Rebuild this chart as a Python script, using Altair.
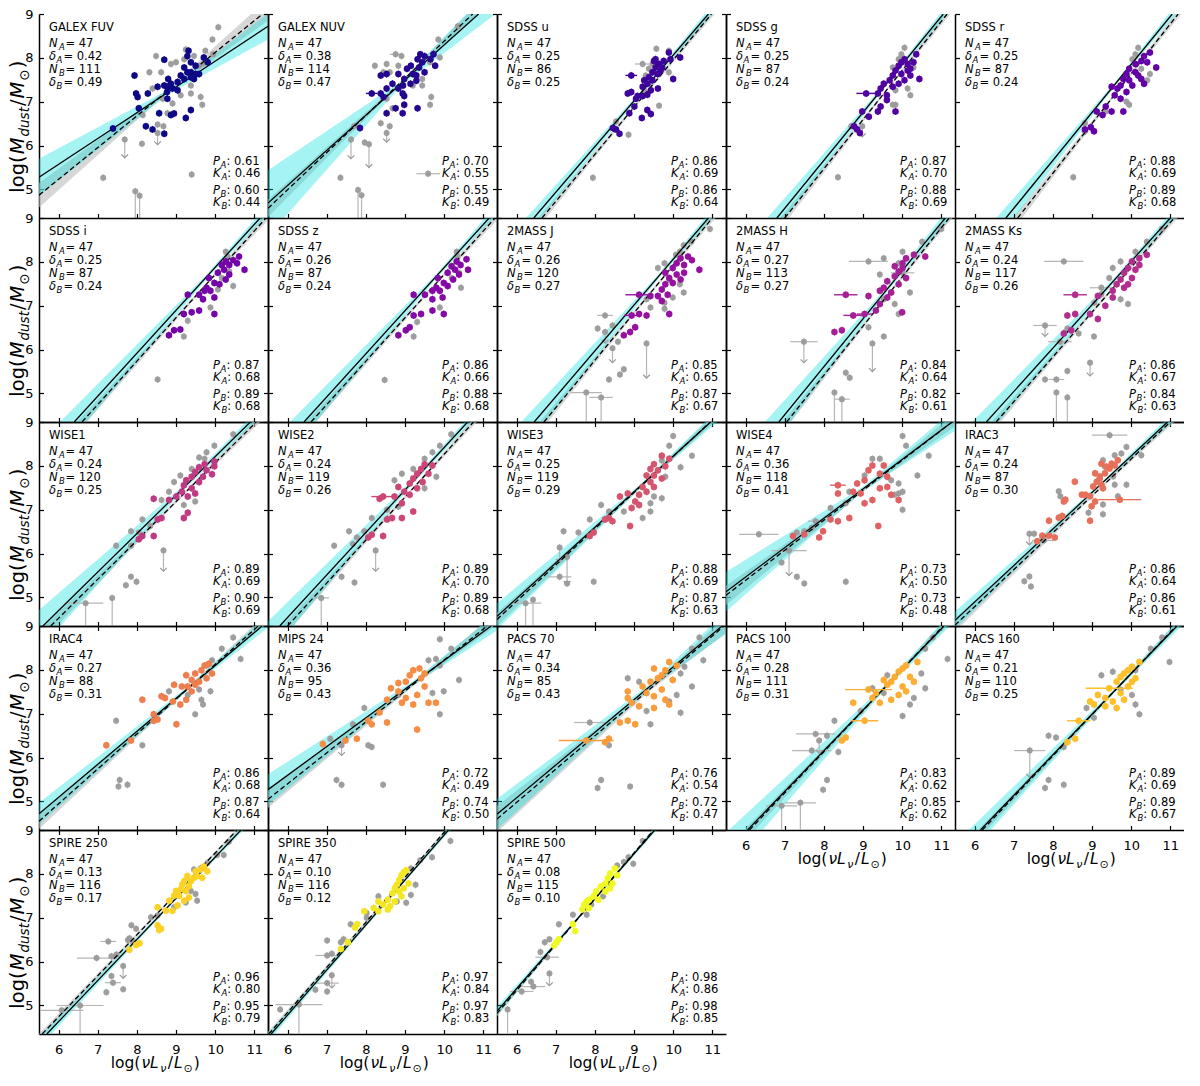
import altair as alt
import pandas as pd

XMIN, XMAX = 5.5, 11.35
YMIN, YMAX = 4.35, 9.0
W, H = 229, 204
XT = [6, 7, 8, 9, 10, 11]
YT = [5, 6, 7, 8, 9]
FONT = "DejaVu Sans"
EB = 0.08          # half length of the small vertical error bars (style)
GREY = "#9a9a9a"
GREY_EB = "#b5b5b5"
TICK = 4.5

NAMES = ["GALEX FUV", "GALEX NUV", "SDSS u", "SDSS g", "SDSS r",
         "SDSS i", "SDSS z", "2MASS J", "2MASS H", "2MASS Ks",
         "WISE1", "WISE2", "WISE3", "WISE4", "IRAC3",
         "IRAC4", "MIPS 24", "PACS 70", "PACS 100", "PACS 160",
         "SPIRE 250", "SPIRE 350", "SPIRE 500"]

COLORS = ["#0d0887", "#240691", "#3c049b", "#5003a1", "#6301a6",
          "#7404a7", "#8509a5", "#9512a0", "#a52097", "#b32d8e",
          "#c03a83", "#cc4778", "#d5546e", "#df6164", "#e7705a",
          "#ef7e4f", "#f58d45", "#f99d3c", "#fcad33", "#fcc02b",
          "#fbd225", "#f5e623", "#f0f921"]

# N_A, delta_A, N_B, delta_B, P_A, K_A, P_B, K_B
STATS = [("47", "0.42", "111", "0.49", "0.61", "0.46", "0.60", "0.44"),
         ("47", "0.38", "114", "0.47", "0.70", "0.55", "0.55", "0.49"),
         ("47", "0.25", "86", "0.25", "0.86", "0.69", "0.86", "0.64"),
         ("47", "0.25", "87", "0.24", "0.87", "0.70", "0.88", "0.69"),
         ("47", "0.25", "87", "0.24", "0.88", "0.69", "0.89", "0.68"),
         ("47", "0.25", "87", "0.24", "0.87", "0.68", "0.89", "0.68"),
         ("47", "0.26", "87", "0.24", "0.86", "0.66", "0.88", "0.68"),
         ("47", "0.26", "120", "0.27", "0.85", "0.65", "0.87", "0.67"),
         ("47", "0.27", "113", "0.27", "0.84", "0.64", "0.82", "0.61"),
         ("47", "0.24", "117", "0.26", "0.86", "0.67", "0.84", "0.63"),
         ("47", "0.24", "120", "0.25", "0.89", "0.69", "0.90", "0.69"),
         ("47", "0.24", "119", "0.26", "0.89", "0.70", "0.89", "0.68"),
         ("47", "0.25", "119", "0.29", "0.88", "0.69", "0.87", "0.63"),
         ("47", "0.36", "118", "0.41", "0.73", "0.50", "0.73", "0.48"),
         ("47", "0.24", "87", "0.30", "0.86", "0.64", "0.86", "0.61"),
         ("47", "0.27", "88", "0.31", "0.86", "0.68", "0.87", "0.64"),
         ("47", "0.36", "95", "0.43", "0.72", "0.49", "0.74", "0.50"),
         ("47", "0.34", "85", "0.43", "0.76", "0.54", "0.72", "0.47"),
         ("47", "0.28", "111", "0.31", "0.83", "0.62", "0.85", "0.62"),
         ("47", "0.21", "110", "0.25", "0.89", "0.69", "0.89", "0.67"),
         ("47", "0.13", "116", "0.17", "0.96", "0.80", "0.95", "0.79"),
         ("47", "0.10", "116", "0.12", "0.97", "0.84", "0.97", "0.83"),
         ("47", "0.08", "115", "0.10", "0.98", "0.86", "0.98", "0.85")]

# fit lines: (x1, y1, x2, y2); A = solid, B = dashed
LINE_A = [(5.5, 5.28, 11.35, 8.72), (5.5, 4.69, 10.88, 9.0), (6.44, 4.35, 10.9, 9.0),
          (6.8, 4.35, 11.05, 9.0), (6.8, 4.35, 11.05, 9.0), (6.4, 4.35, 11.15, 9.0),
          (6.42, 4.35, 11.15, 9.0), (6.45, 4.35, 10.9, 9.0), (6.85, 4.35, 11.1, 9.0),
          (6.3, 4.35, 11.0, 9.0), (5.6, 4.35, 10.9, 9.0), (5.8, 4.35, 10.6, 9.0),
          (5.5, 4.57, 10.96, 9.0), (5.5, 5.13, 11.35, 9.05), (5.5, 4.48, 10.93, 9.0),
          (5.5, 4.72, 11.2, 9.0), (5.5, 5.27, 11.2, 9.0), (5.5, 4.71, 11.25, 9.0),
          (6.05, 4.35, 11.07, 9.0), (6.15, 4.35, 11.17, 9.0), (5.7, 4.35, 10.66, 9.0),
          (5.58, 4.35, 10.11, 9.0), (5.5, 4.87, 9.53, 9.0)]
LINE_B = [(5.5, 4.87, 11.35, 9.10), (5.5, 4.57, 10.73, 9.0), (6.65, 4.35, 10.98, 9.0),
          (7.0, 4.35, 11.15, 9.0), (7.1, 4.35, 11.2, 9.0), (6.6, 4.35, 11.3, 9.0),
          (6.6, 4.35, 11.3, 9.0), (6.7, 4.35, 11.0, 9.0), (7.05, 4.35, 11.2, 9.0),
          (6.55, 4.35, 11.1, 9.0), (5.8, 4.35, 11.05, 9.0), (6.0, 4.35, 10.75, 9.0),
          (5.5, 4.50, 10.95, 9.0), (5.5, 5.05, 11.35, 9.05), (5.5, 4.37, 11.0, 9.0),
          (5.5, 4.55, 11.1, 9.0), (5.5, 5.05, 11.1, 9.0), (5.5, 4.60, 11.3, 9.0),
          (6.1, 4.35, 11.05, 9.0), (6.2, 4.35, 11.15, 9.0), (5.58, 4.35, 10.56, 9.0),
          (5.52, 4.35, 10.05, 9.0), (5.5, 4.82, 9.5, 9.0)]
# confidence bands: (pivot x, half width at left edge, at pivot, at right edge)
BAND_A = [(8.8, 0.42, 0.05, 0.30), (8.9, 0.75, 0.05, 0.35), (9.3, 0.25, 0.04, 0.12),
          (9.6, 0.35, 0.04, 0.12), (9.6, 0.35, 0.04, 0.12), (9.8, 0.40, 0.05, 0.12),
          (9.8, 0.40, 0.05, 0.12), (9.6, 0.40, 0.05, 0.12), (9.6, 0.50, 0.05, 0.15),
          (9.6, 0.40, 0.05, 0.12), (9.2, 0.45, 0.05, 0.12), (9.2, 0.40, 0.05, 0.12),
          (9.2, 0.30, 0.04, 0.15), (9.0, 0.45, 0.05, 0.25), (9.2, 0.20, 0.03, 0.12),
          (9.3, 0.25, 0.04, 0.15), (9.2, 0.35, 0.05, 0.20), (9.4, 0.35, 0.05, 0.25),
          (9.6, 0.45, 0.05, 0.15), (9.6, 0.30, 0.04, 0.12), (9.2, 0.12, 0.03, 0.08),
          (8.7, 0.10, 0.03, 0.08), (7.8, 0.10, 0.03, 0.08)]
BAND_B = [(8.8, 0.28, 0.04, 0.25), (8.9, 0.20, 0.03, 0.15), (9.3, 0.14, 0.03, 0.10),
          (9.6, 0.18, 0.03, 0.10), (9.6, 0.20, 0.03, 0.10), (9.8, 0.15, 0.03, 0.10),
          (9.8, 0.15, 0.03, 0.10), (9.6, 0.15, 0.03, 0.10), (9.6, 0.18, 0.03, 0.10),
          (9.6, 0.15, 0.03, 0.10), (9.2, 0.15, 0.03, 0.10), (9.2, 0.15, 0.03, 0.10),
          (9.2, 0.15, 0.03, 0.10), (9.0, 0.22, 0.04, 0.15), (9.2, 0.15, 0.03, 0.10),
          (9.3, 0.18, 0.03, 0.12), (9.2, 0.20, 0.04, 0.15), (9.4, 0.30, 0.04, 0.20),
          (9.6, 0.15, 0.03, 0.10), (9.6, 0.12, 0.03, 0.08), (9.2, 0.08, 0.02, 0.06),
          (8.7, 0.07, 0.02, 0.05), (7.8, 0.07, 0.02, 0.05)]

# ---- points: *_A coloured sample, *_B grey sample, *_LIM upper limits (x, y, arrow end),
# ---- *_XA / *_XB horizontal error bars (x, y, half width)
FUV_A = [(7.39,6.39),(7.94,7.60),(7.98,7.19),(8.02,7.11),(8.28,7.19),(8.05,6.85),(8.23,6.44),(8.40,6.37),(8.70,7.96),(8.57,6.74),(8.70,6.27),(8.53,7.34),(8.70,7.37),(8.78,7.34),(8.77,7.22),(8.80,7.52),(8.87,6.70),(8.95,6.73),(9.04,7.45),(9.12,7.60),(9.21,7.78),(9.29,7.67),(9.38,7.67),(9.38,7.56),(9.25,6.63),(9.38,6.81),(9.32,8.16),(9.29,8.04),(9.38,7.90),(9.50,7.82),(9.50,7.63),(9.59,7.63),(9.71,8.01),(9.81,7.90),(9.46,7.52),(9.04,7.26),(8.91,7.30),(9.21,7.52),(8.78,7.07),(8.87,7.41)]
FUV_B = [(10.08,8.70),(9.93,8.42),(9.95,8.08),(9.75,8.16),(9.70,7.87),(9.59,7.82),(9.46,8.04),(9.25,8.19),(9.21,7.97),(9.00,7.90),(8.87,7.86),(8.62,7.67),(8.49,8.04),(8.32,7.67),(8.40,7.30),(8.66,7.07),(8.91,6.96),(9.12,7.15),(9.38,7.19),(9.63,7.11),(9.67,6.93),(8.78,6.74),(8.53,6.48),(8.68,6.44),(8.53,6.29),(7.69,6.14),(8.13,6.04),(7.14,5.27),(9.40,5.34),(7.96,4.96),(8.07,4.86),(8.15,6.70),(9.38,7.37)]
FUV_LIM = [(7.69,6.14,5.72),(7.96,4.96,3.9),(8.07,4.86,3.9),(8.53,6.29,6.02)]

NUV_A = [(8.38,7.60),(8.15,7.19),(8.45,7.11),(8.53,7.30),(8.68,7.41),(8.83,7.30),(8.94,7.19),(8.98,7.13),(8.76,6.85),(8.53,6.74),(8.94,6.74),(9.32,6.85),(7.85,6.40),(8.83,7.63),(8.98,7.52),(9.20,7.63),(9.05,7.75),(9.15,7.82),(9.36,7.78),(9.44,7.90),(9.32,7.97),(9.39,8.08),(9.50,8.04),(9.73,8.08),(9.77,7.82),(9.50,7.67),(9.29,7.60),(9.14,7.41),(8.95,7.37),(8.53,7.63),(9.29,7.48),(9.65,7.97),(8.98,6.93),(8.38,7.19)]
NUV_B = [(10.35,8.72),(9.85,8.42),(9.89,8.01),(9.64,7.90),(9.44,7.52),(9.67,7.11),(9.64,6.93),(9.44,7.37),(9.20,7.37),(8.91,8.04),(8.83,7.82),(8.61,7.67),(8.45,7.67),(8.23,7.82),(8.53,7.86),(8.53,7.07),(8.68,6.85),(8.38,6.51),(8.61,6.44),(8.53,6.29),(7.70,6.44),(7.62,6.14),(7.97,6.07),(8.08,6.03),(7.35,5.27),(9.59,5.36),(7.80,4.99),(7.89,4.87),(8.76,8.08)]
NUV_LIM = [(7.62,6.14,5.7),(8.08,6.03,5.5),(8.53,6.29,6.08),(7.80,4.99,3.9),(7.89,4.87,3.9)]
NUV_XA = [(8.15,7.19,0.15)]
NUV_XB = [(9.59,5.36,0.3),(8.76,8.08,0.15)]

U_A = [(8.46,6.40),(8.54,6.37),(8.63,6.27),(8.88,6.74),(9.01,6.89),(9.20,6.63),(9.34,6.81),(9.43,6.72),(8.93,7.60),(8.84,7.19),(8.93,7.22),(9.09,7.13),(9.22,7.13),(9.34,7.16),(9.43,7.26),(9.22,7.34),(9.26,7.49),(9.34,7.41),(9.38,7.56),(9.47,7.67),(9.55,7.78),(9.64,7.86),(9.72,7.78),(9.60,7.63),(9.51,7.93),(9.55,7.97),(9.89,8.12),(9.93,7.97),(9.76,7.93),(10.0,7.52),(9.61,7.30),(10.18,8.01),(9.05,7.07),(9.68,7.71),(9.47,7.49)]
U_B = [(9.57,8.21),(9.89,8.16),(9.22,7.86),(9.47,7.86),(9.38,7.75),(9.30,7.60),(9.40,7.41),(9.64,6.91),(8.86,6.25),(7.95,5.27),(9.89,7.67),(9.26,7.26),(8.54,6.55)]
U_XA = [(8.93,7.60,0.15)]
U_XB = [(9.22,7.86,0.2)]

G_A = [(8.85,6.37),(8.92,6.29),(8.77,6.44),(8.98,6.78),(9.15,6.66),(9.38,6.78),(9.45,6.89),(9.83,6.78),(9.08,7.19),(9.38,7.19),(9.45,7.30),(9.53,7.41),(9.61,7.15),(9.76,7.34),(9.68,7.49),(9.76,7.60),(9.83,7.71),(9.91,7.82),(9.98,7.90),(10.06,7.97),(10.14,7.86),(10.29,7.90),(10.36,8.08),(9.98,7.63),(10.14,7.71),(10.21,7.60),(10.44,7.52),(9.91,7.41),(10.06,7.49),(10.21,7.75),(9.61,7.04)]
G_B = [(10.06,8.23),(9.98,8.08),(10.14,7.30),(10.21,7.15),(9.83,6.93),(9.76,6.93),(8.98,6.44),(8.70,6.44),(8.36,5.28),(9.91,7.97),(10.29,7.78),(9.76,7.78),(9.83,7.26)]
G_LIM = [(8.98,6.44,6.2)]
G_XA = [(9.08,7.19,0.25)]

R_A = [(8.82,6.37),(8.97,6.42),(9.05,6.33),(9.12,6.78),(9.27,6.70),(9.50,6.78),(9.80,6.78),(9.35,6.89),(9.58,7.15),(9.65,7.30),(9.50,7.34),(9.73,7.37),(9.80,7.52),(9.88,7.63),(9.95,7.75),(10.11,7.86),(10.26,7.93),(10.33,8.04),(10.48,8.12),(10.64,7.78),(10.33,7.41),(10.18,7.60),(10.03,7.37),(9.88,7.22),(10.11,7.67),(10.41,7.90),(9.95,7.49),(10.26,7.52),(9.73,7.07)]
R_B = [(10.18,8.23),(10.11,8.08),(10.26,7.75),(10.41,7.49),(9.88,7.00),(9.95,6.93),(9.35,6.78),(8.82,6.51),(8.52,5.28),(10.48,7.63),(10.03,7.97)]
R_LIM = [(8.82,6.51,6.25)]

I_A = [(8.82,6.33),(8.95,6.44),(9.11,6.46),(9.20,6.81),(9.40,6.85),(9.59,6.89),(9.98,6.81),(9.30,7.25),(9.59,7.25),(9.69,7.15),(9.78,7.41),(9.88,7.34),(9.98,7.52),(9.84,7.63),(10.07,7.75),(10.17,7.93),(10.27,8.01),(10.36,7.93),(10.46,8.04),(10.61,8.12),(10.75,7.82),(10.36,7.71),(10.27,7.60),(10.11,7.49),(9.98,7.19),(9.73,7.34),(10.23,7.82),(10.56,7.97)]
I_B = [(10.27,8.23),(10.32,8.12),(10.17,7.63),(10.46,7.45),(9.88,6.96),(9.30,6.66),(9.20,6.30),(8.53,5.32),(10.36,7.78),(10.07,7.37)]

Z_A = [(8.83,6.33),(9.02,6.44),(9.12,6.51),(9.22,6.78),(9.41,6.81),(9.70,6.89),(9.99,6.81),(9.22,7.25),(9.51,7.25),(9.70,7.15),(9.80,7.41),(9.89,7.34),(9.99,7.52),(9.84,7.63),(10.09,7.75),(10.19,7.90),(10.32,8.01),(10.42,7.93),(10.57,8.06),(10.61,7.82),(10.38,7.71),(10.23,7.60),(10.09,7.45),(9.96,7.19),(9.70,7.34),(10.28,7.82)]
Z_B = [(10.32,8.23),(10.34,8.12),(10.19,7.63),(10.43,7.41),(9.89,6.96),(9.31,6.63),(9.22,6.30),(8.48,5.31),(10.38,7.75)]

J_A = [(8.74,6.33),(8.90,6.40),(9.03,6.51),(8.94,6.78),(9.13,6.81),(9.32,6.78),(9.90,6.81),(9.13,7.25),(9.42,7.22),(9.61,7.22),(9.71,7.11),(9.71,7.37),(9.80,7.49),(9.90,7.63),(9.80,7.75),(9.99,7.86),(10.09,7.97),(10.19,8.08),(10.38,8.12),(10.48,8.04),(10.67,7.82),(10.28,7.75),(10.19,7.60),(9.99,7.52),(9.86,7.25),(10.09,7.71),(10.28,7.93)]
J_B = [(10.94,8.75),(10.46,8.46),(10.27,8.38),(10.17,8.23),(10.07,8.16),(9.78,7.97),(9.61,7.86),(9.90,7.60),(10.17,7.49),(10.27,7.30),(9.99,7.19),(9.78,7.07),(9.78,6.93),(9.42,6.96),(9.32,7.15),(8.26,6.78),(8.45,6.55),(8.07,6.48),(8.26,6.40),(8.59,6.18),(8.45,6.03),(9.32,6.14),(8.74,5.55),(8.36,5.32),(8.64,5.43),(7.78,5.02),(8.16,4.91)]
J_LIM = [(8.26,6.40,6.15),(8.45,6.03,5.7),(9.32,6.14,5.35),(7.78,5.02,3.9),(8.16,4.91,3.9)]
J_XA = [(9.13,7.25,0.35),(8.94,6.78,0.2)]
J_XB = [(8.26,6.78,0.2),(7.78,5.02,0.4),(8.16,4.91,0.3)]

H_A = [(8.27,6.40),(8.46,6.44),(8.75,6.78),(9.04,6.81),(9.33,6.89),(10.00,6.85),(8.56,7.25),(9.14,7.22),(9.43,7.34),(9.53,7.41),(9.62,7.56),(9.81,7.67),(9.91,7.78),(9.81,7.90),(10.01,7.97),(10.10,8.08),(10.30,8.16),(10.59,8.12),(9.91,7.49),(9.72,7.30),(9.62,7.19),(10.10,7.63),(9.43,7.04),(10.01,7.86)]
H_B = [(11.00,8.75),(10.51,8.46),(10.01,8.23),(9.14,8.01),(9.91,7.97),(10.01,7.75),(9.53,8.08),(9.43,7.71),(9.53,7.15),(9.81,7.04),(9.91,6.81),(10.20,7.30),(9.14,6.51),(7.49,6.18),(9.24,6.14),(8.56,5.47),(8.66,5.36),(8.46,4.87),(8.27,5.02),(9.53,6.30)]
H_LIM = [(7.49,6.18,5.7),(9.24,6.14,5.5),(8.27,5.02,3.9),(8.46,4.87,3.9)]
H_XA = [(8.75,6.78,0.25),(9.04,6.81,0.2),(8.56,7.25,0.3)]
H_XB = [(9.14,8.01,0.5),(10.01,7.75,0.3),(7.49,6.18,0.35),(8.46,4.87,0.2)]

KS_A = [(8.28,6.37),(8.47,6.44),(8.37,6.78),(8.57,6.81),(8.95,6.81),(9.15,6.70),(8.57,7.25),(9.15,7.22),(9.53,7.34),(9.63,7.49),(9.73,7.60),(9.82,7.75),(9.92,7.86),(10.02,8.01),(10.21,8.08),(10.40,8.16),(10.11,7.82),(10.02,7.63),(9.82,7.41),(9.53,7.19),(9.92,7.49),(10.21,7.93),(9.34,7.00)]
KS_B = [(10.79,8.75),(10.40,8.46),(8.28,8.01),(10.11,8.23),(9.73,8.01),(9.53,7.86),(9.44,7.63),(9.24,7.41),(9.73,7.15),(9.92,7.04),(9.06,7.07),(9.24,7.26),(7.80,6.55),(8.37,6.48),(8.66,6.37),(8.18,6.18),(9.05,6.30),(8.95,5.70),(8.37,5.51),(8.09,5.32),(8.09,5.02),(8.37,4.91),(7.80,5.32)]
KS_LIM = [(7.80,6.55,6.3),(8.95,5.70,5.4),(8.09,5.02,3.9),(8.37,4.91,3.9)]
KS_XA = [(8.57,7.25,0.3)]
KS_XB = [(8.28,8.01,0.5),(7.80,6.55,0.3),(8.18,6.18,0.3),(9.24,7.41,0.3),(8.09,5.32,0.2)]

W1_A = [(8.05,6.33),(8.14,6.40),(8.43,6.40),(8.53,6.78),(8.63,6.81),(9.20,6.81),(9.30,6.93),(8.43,7.25),(8.82,7.22),(9.01,7.30),(9.15,7.41),(9.20,7.56),(9.26,7.67),(9.40,7.75),(9.49,7.86),(9.59,7.97),(9.73,8.04),(9.98,7.99),(9.92,7.81),(9.59,7.63),(9.40,7.49),(9.30,7.30),(9.69,7.75),(9.78,7.90),(9.49,7.37),(9.98,8.10)]
W1_B = [(10.46,8.72),(9.98,8.46),(9.78,8.31),(9.73,8.16),(9.59,8.19),(9.40,7.93),(9.11,7.78),(8.95,7.63),(8.82,7.41),(8.63,7.22),(9.20,7.11),(9.49,7.19),(8.14,6.78),(7.85,6.51),(8.05,6.48),(8.34,6.63),(7.47,6.18),(7.85,6.18),(8.68,6.07),(7.85,5.47),(7.99,5.36),(7.72,5.28),(7.37,4.99),(6.69,4.87)]
W1_LIM = [(8.68,6.07,5.6),(7.37,4.99,3.9),(6.69,4.87,3.9)]
W1_XB = [(6.69,4.87,0.45)]

W2_A = [(8.06,6.37),(8.15,6.43),(8.44,6.40),(8.54,6.78),(8.67,6.81),(8.92,6.81),(9.21,6.96),(8.35,7.25),(8.44,7.30),(8.73,7.30),(8.98,7.41),(9.12,7.60),(9.21,7.71),(9.31,7.82),(9.41,7.93),(9.50,8.04),(9.60,7.82),(9.70,8.01),(9.31,7.49),(9.12,7.34),(8.92,7.15),(9.45,7.63),(8.83,7.52)]
W2_B = [(10.18,8.72),(9.89,8.46),(9.70,8.31),(9.50,8.16),(9.21,7.93),(8.92,7.82),(8.73,7.67),(9.80,7.75),(9.50,7.49),(8.83,7.07),(8.54,7.00),(8.15,6.81),(7.96,6.51),(7.57,6.51),(7.77,6.37),(7.67,6.22),(7.19,6.18),(7.38,5.47),(7.71,5.34),(8.25,6.07),(6.86,4.99)]
W2_LIM = [(8.25,6.07,5.6),(6.86,4.99,3.9)]
W2_XA = [(8.44,7.30,0.3)]
W2_XB = [(6.86,4.99,0.2)]

W3_A = [(7.87,6.40),(7.97,6.48),(8.26,6.78),(8.36,6.81),(8.45,6.74),(8.90,6.63),(8.64,7.30),(8.84,7.37),(9.03,7.19),(9.13,7.34),(9.32,7.41),(9.22,7.52),(9.42,7.63),(9.51,7.78),(9.61,7.90),(9.80,7.99),(9.90,8.16),(9.71,8.23),(9.51,8.04),(9.42,7.93),(9.32,7.78),(9.51,7.52),(9.13,7.11),(8.94,7.04),(9.71,7.71)]
W3_B = [(10.00,8.68),(9.90,8.46),(10.48,8.23),(10.19,7.97),(9.71,8.12),(9.80,7.75),(9.51,7.30),(9.71,7.26),(9.42,7.15),(9.42,6.96),(9.22,6.81),(8.74,6.96),(8.36,6.96),(8.16,7.11),(7.87,6.78),(7.58,6.48),(7.20,6.51),(7.10,6.14),(7.29,5.92),(7.10,5.47),(7.29,5.32),(7.97,5.36),(6.23,4.87),(6.42,4.95)]
W3_LIM = [(7.10,6.14,5.8),(7.29,5.92,5.3),(6.23,4.87,3.9),(6.42,4.95,3.9)]
W3_XB = [(7.10,5.47,0.3),(6.23,4.87,0.4)]

W4_A = [(7.21,6.40),(7.50,6.44),(7.88,6.37),(7.98,6.51),(8.17,6.78),(8.36,6.74),(8.65,6.81),(8.36,7.37),(8.36,7.56),(8.75,7.41),(8.94,7.37),(8.85,7.60),(9.04,7.67),(9.14,7.90),(9.24,8.01),(9.43,7.82),(9.53,8.01),(9.62,7.75),(9.43,7.49),(9.72,7.34),(9.91,7.22),(9.24,7.22),(9.39,6.63),(9.04,7.15),(9.62,7.52)]
W4_B = [(10.01,8.68),(10.10,8.46),(10.68,8.23),(10.39,7.78),(9.91,7.60),(9.91,7.37),(10.01,7.00),(10.01,7.41),(9.72,7.67),(9.43,8.16),(9.24,8.16),(9.04,7.78),(8.65,7.41),(8.56,7.15),(8.17,7.04),(7.79,6.74),(7.69,6.59),(7.50,6.51),(7.31,6.48),(6.34,6.44),(7.11,6.07),(7.31,5.47),(7.50,5.32),(8.56,5.36),(6.92,5.80),(9.81,7.34)]
W4_LIM = [(7.11,6.07,5.5)]
W4_XA = [(8.36,7.56,0.2)]
W4_XB = [(6.34,6.44,0.5),(7.11,6.07,0.45),(7.79,6.74,0.2)]

I3_A = [(7.60,6.28),(7.73,6.41),(7.90,6.41),(8.05,6.37),(7.90,6.75),(8.15,6.82),(8.24,6.86),(8.32,7.23),(8.28,7.19),(8.56,7.64),(8.74,7.34),(8.83,7.34),(8.95,7.31),(9.08,7.19),(8.99,7.08),(8.95,6.75),(9.03,7.53),(9.12,7.64),(9.20,7.72),(9.24,7.57),(9.28,7.49),(9.33,7.83),(9.37,7.98),(9.45,7.94),(9.50,8.05),(9.58,8.01),(9.66,8.13),(9.24,8.05),(9.71,7.23),(9.08,7.83),(9.20,7.76)]
I3_B = [(9.45,8.70),(9.88,8.43),(10.26,8.24),(9.75,8.28),(9.58,8.24),(9.28,8.13),(9.33,7.98),(9.54,7.76),(9.58,7.57),(9.88,7.57),(9.66,7.31),(9.28,7.12),(9.28,6.90),(8.91,6.93),(8.15,7.42),(8.19,7.31),(7.40,6.45),(7.52,6.45),(7.77,6.30),(7.27,5.37),(7.40,5.48),(7.44,5.25)]
I3_LIM = [(7.40,6.45,6.2)]
I3_XA = [(9.71,7.23,0.55)]
I3_XB = [(9.45,8.70,0.45),(7.77,6.30,0.3)]

I4_A = [(7.22,6.28),(7.85,6.39),(8.14,7.32),(8.43,6.84),(8.53,6.87),(8.63,7.40),(8.72,7.36),(8.92,7.28),(9.01,6.76),(9.11,7.21),(9.15,7.62),(9.26,7.88),(9.40,7.77),(9.30,7.62),(9.49,7.92),(9.65,7.99),(9.73,8.10),(9.84,8.14),(9.92,7.92),(9.59,7.73),(9.40,7.51),(9.26,7.32),(9.49,7.66),(9.78,7.81),(8.95,7.66),(8.43,6.99)]
I4_B = [(10.46,8.74),(10.17,8.48),(10.65,8.25),(9.92,8.22),(9.78,8.10),(9.59,7.55),(9.65,7.32),(9.69,7.21),(9.49,6.99),(8.14,6.28),(7.47,6.84),(7.56,5.49),(7.76,5.38),(7.53,5.34),(9.30,7.43),(8.82,7.51),(9.88,7.51)]

M24_A = [(6.90,6.31),(7.48,6.39),(7.77,6.43),(8.06,6.84),(8.15,6.76),(8.54,6.80),(8.54,7.32),(8.35,7.03),(8.64,7.58),(8.83,7.51),(8.92,7.25),(9.02,7.73),(9.12,7.88),(9.21,7.99),(9.37,8.03),(9.50,7.92),(9.41,7.81),(9.31,7.43),(9.50,7.62),(9.21,7.21),(9.60,7.25),(9.79,7.25),(9.31,6.64),(9.02,7.36),(8.83,7.70)]
M24_B = [(9.89,8.70),(10.18,8.48),(9.60,8.22),(9.89,8.10),(9.79,8.25),(10.38,7.77),(9.99,7.51),(9.89,6.99),(9.70,7.47),(8.83,7.43),(7.96,7.13),(7.67,6.76),(7.09,6.43),(7.38,6.28),(8.06,6.28),(8.15,6.24),(7.25,5.49),(7.38,5.38),(8.44,5.38)]
M24_LIM = [(7.38,6.28,6.05)]

P70_A = [(7.78,6.39),(8.26,6.35),(8.36,6.43),(8.64,6.80),(8.84,6.84),(9.03,6.76),(8.84,7.36),(8.94,7.25),(8.84,7.51),(9.22,7.62),(9.32,7.47),(9.51,7.40),(9.42,7.73),(9.61,7.81),(9.71,7.88),(9.80,7.99),(9.51,8.03),(9.90,8.18),(10.09,8.10),(9.99,7.77),(9.80,7.32),(9.90,7.21),(9.51,7.13),(9.71,7.55),(9.13,7.17)]
P70_B = [(10.67,8.74),(10.48,8.48),(10.77,8.22),(10.29,8.07),(10.19,7.92),(10.48,7.62),(10.09,7.43),(9.90,7.28),(10.19,7.02),(9.42,6.76),(9.32,7.06),(9.13,7.73),(8.84,7.81),(7.87,6.80),(8.36,6.28),(8.16,5.49),(8.07,5.31),(8.90,5.34)]
P70_XA = [(7.78,6.39,0.7)]
P70_XB = [(7.87,6.80,0.4)]

P100_A = [(8.46,6.39),(8.56,6.46),(9.04,6.84),(8.75,7.25),(9.24,7.36),(9.33,7.47),(9.14,7.55),(9.62,7.66),(9.72,7.73),(9.81,7.84),(9.91,7.96),(10.01,8.03),(10.10,8.10),(10.20,7.84),(10.01,7.62),(9.91,7.43),(9.72,7.32),(9.43,7.25),(10.39,8.18),(10.10,7.51),(9.53,7.77),(10.30,7.73)]
P100_B = [(10.78,8.74),(10.59,8.48),(11.16,8.25),(10.49,7.92),(10.59,7.58),(10.30,7.36),(10.20,7.21),(10.01,6.95),(9.62,7.88),(9.53,7.47),(9.24,7.58),(8.94,7.06),(8.27,6.84),(7.79,6.54),(8.08,6.50),(7.88,6.39),(7.69,6.16),(8.37,6.13),(8.08,5.49),(7.98,5.27),(7.40,4.97),(6.92,4.90)]
P100_LIM = [(7.88,6.39,6.1),(7.40,4.97,3.9),(6.92,4.90,3.9)]
P100_XA = [(9.04,6.84,0.35),(9.14,7.55,0.6)]
P100_XB = [(7.79,6.54,0.5),(7.69,6.16,0.5),(7.40,4.97,0.4),(6.92,4.90,0.4)]

P160_A = [(8.37,6.35),(8.57,6.43),(8.66,6.84),(8.95,7.28),(9.05,7.21),(9.15,7.43),(9.34,7.36),(9.44,7.58),(9.63,7.73),(9.73,7.84),(9.82,7.92),(9.92,7.99),(10.02,8.07),(10.21,8.18),(10.11,7.81),(9.92,7.62),(9.73,7.47),(9.53,7.28),(9.34,7.17),(9.63,7.13),(10.02,7.73),(9.82,7.32)]
P160_B = [(10.79,8.74),(10.50,8.48),(10.98,8.18),(10.11,7.99),(9.53,7.96),(9.24,7.88),(9.73,7.55),(10.02,7.43),(10.11,7.21),(10.21,6.99),(9.05,6.91),(8.86,7.13),(7.89,6.50),(8.08,6.46),(8.28,6.24),(7.41,6.16),(7.89,5.49),(7.80,5.31),(8.28,5.38)]
P160_LIM = [(7.41,6.16,5.55)]
P160_XA = [(8.66,6.84,0.3),(9.44,7.58,0.6)]
P160_XB = [(7.41,6.16,0.4)]

S250_A = [(7.81,6.27),(7.98,6.38),(8.07,6.42),(8.53,6.83),(8.57,6.72),(8.62,6.75),(8.53,7.24),(8.74,7.16),(8.83,7.39),(8.95,7.50),(9.00,7.61),(9.08,7.50),(9.12,7.65),(9.16,7.76),(9.21,7.84),(9.29,7.95),(9.25,7.61),(9.33,7.72),(9.38,7.84),(9.46,7.91),(9.50,8.06),(9.54,7.95),(9.63,8.10),(9.71,8.17),(9.80,8.06),(9.33,7.46),(9.21,7.39),(8.91,7.16),(9.04,7.28),(9.67,7.91)]
S250_B = [(10.35,8.73),(10.22,8.43),(10.05,8.43),(9.80,8.25),(9.63,8.13),(9.46,8.10),(9.38,7.61),(9.50,7.54),(9.54,7.39),(9.25,7.35),(8.95,7.24),(8.36,7.01),(8.53,7.05),(7.86,6.83),(7.98,6.75),(7.77,6.49),(7.81,6.53),(7.90,6.46),(7.27,6.46),(7.35,6.12),(7.48,6.16),(7.65,5.90),(7.35,5.67),(7.22,5.30),(7.39,5.52),(7.65,5.37),(6.08,4.89),(6.55,5.00),(6.97,6.08)]
S250_LIM = [(7.65,5.90,5.62),(6.55,5.00,3.9)]
S250_XB = [(7.27,6.46,0.2),(6.08,4.89,0.55),(6.55,5.00,0.6),(6.97,6.08,0.5),(7.39,5.52,0.2)]

S350_A = [(7.36,6.29),(7.54,6.44),(7.72,6.78),(7.78,6.85),(7.96,7.15),(8.20,7.22),(8.32,7.37),(8.44,7.30),(8.56,7.41),(8.62,7.26),(8.68,7.56),(8.74,7.67),(8.79,7.75),(8.85,7.86),(8.91,7.97),(8.97,8.04),(9.03,8.08),(9.09,7.78),(8.97,7.67),(8.85,7.60),(8.74,7.37),(8.56,7.19),(8.91,7.49),(8.32,7.15)]
S350_B = [(10.16,8.75),(9.69,8.38),(9.39,8.31),(9.15,8.12),(9.27,7.75),(9.15,7.52),(9.03,7.34),(8.79,7.37),(8.32,7.49),(8.02,7.11),(8.02,7.00),(7.61,6.85),(7.43,6.51),(7.36,6.44),(7.01,6.48),(7.13,6.18),(7.01,6.14),(7.13,5.69),(7.01,5.51),(6.71,5.36),(7.01,5.32),(6.29,5.02),(5.81,4.91)]
S350_LIM = [(7.13,5.69,5.4),(6.29,5.02,3.9)]
S350_XB = [(7.01,6.14,0.3),(7.01,5.51,0.3),(6.29,5.02,0.6)]

S500_A = [(7.02,6.44),(7.08,6.51),(6.96,6.37),(7.44,6.85),(7.50,6.70),(7.68,7.19),(7.73,7.30),(7.85,7.41),(7.97,7.49),(8.03,7.60),(8.15,7.71),(8.27,7.78),(8.33,7.90),(8.39,8.01),(8.51,8.12),(8.45,7.78),(8.27,7.60),(8.09,7.41),(7.85,7.22),(8.39,7.67),(8.57,7.97),(7.79,7.37)]
S500_B = [(9.22,8.75),(8.86,8.38),(8.74,8.27),(8.98,8.23),(8.57,8.19),(8.39,7.78),(8.21,7.49),(7.91,7.30),(7.79,7.07),(7.44,7.07),(7.08,6.85),(6.84,6.51),(6.72,6.44),(6.61,6.22),(6.78,6.10),(6.84,5.73),(6.43,5.43),(6.37,5.54),(6.13,5.32),(5.77,4.91)]
S500_LIM = [(6.84,5.73,5.45),(5.77,4.91,3.9)]
S500_XB = [(6.78,6.10,0.3),(6.43,5.43,0.3),(6.13,5.32,0.3)]

PTS_A = [FUV_A, NUV_A, U_A, G_A, R_A, I_A, Z_A, J_A, H_A, KS_A, W1_A, W2_A, W3_A, W4_A,
         I3_A, I4_A, M24_A, P70_A, P100_A, P160_A, S250_A, S350_A, S500_A]
PTS_B = [FUV_B, NUV_B, U_B, G_B, R_B, I_B, Z_B, J_B, H_B, KS_B, W1_B, W2_B, W3_B, W4_B,
         I3_B, I4_B, M24_B, P70_B, P100_B, P160_B, S250_B, S350_B, S500_B]
LIMS = [FUV_LIM, NUV_LIM, [], G_LIM, R_LIM, [], [], J_LIM, H_LIM, KS_LIM, W1_LIM, W2_LIM,
        W3_LIM, W4_LIM, I3_LIM, [], M24_LIM, [], P100_LIM, P160_LIM, S250_LIM, S350_LIM, S500_LIM]
XERR_A = [[], NUV_XA, U_XA, G_XA, [], [], [], J_XA, H_XA, KS_XA, [], W2_XA, [], W4_XA,
          I3_XA, [], [], P70_XA, P100_XA, P160_XA, [], [], []]
XERR_B = [[], NUV_XB, U_XB, [], [], [], [], J_XB, H_XB, KS_XB, W1_XB, W2_XB, W3_XB, W4_XB,
          I3_XB, [], [], P70_XB, P100_XB, P160_XB, S250_XB, S350_XB, S500_XB]

XS = alt.Scale(domain=[XMIN, XMAX], nice=False, zero=False)
YS = alt.Scale(domain=[YMIN, YMAX], nice=False, zero=False)
NPANEL = len(NAMES)


def qx(f, axis=None):
    return alt.X(f, type="quantitative", scale=XS, axis=axis)


def qy(f, axis=None):
    return alt.Y(f, type="quantitative", scale=YS, axis=axis)


def px2x(px):
    return XMIN + px / W * (XMAX - XMIN)


def py2y(py):
    return YMAX - py / H * (YMAX - YMIN)


def lin(l, x):
    x1, y1, x2, y2 = l
    return y1 + (y2 - y1) * (x - x1) / (x2 - x1)


def band_df(l, b):
    pv, wl, wp, wr = b
    xs = [XMIN, pv, XMAX]
    ws = [wl, wp, wr]
    return pd.DataFrame({"x": xs,
                         "lo": [lin(l, x) - w for x, w in zip(xs, ws)],
                         "hi": [lin(l, x) + w for x, w in zip(xs, ws)]})


def pts_df(pts):
    df = pd.DataFrame(pts, columns=["x", "y"])
    df["lo"] = df["y"] - EB
    df["hi"] = df["y"] + EB
    return df


def xerr_df(v):
    df = pd.DataFrame(v, columns=["x", "y", "xe"])
    df["x1"] = df["x"] - df["xe"]
    df["x2"] = df["x"] + df["xe"]
    return df


def tick_axis(orient, values, offset):
    # frame edge with ticks only; offset moves an axis to the opposite edge so ticks point inward
    return alt.Axis(orient=orient, values=values, title=None, labels=False, offset=offset,
                    ticks=True, tickSize=TICK, tickWidth=1.2, tickColor="black",
                    domain=True, domainColor="black", domainWidth=1.5, grid=False)


def label_axis(orient, values, pad):
    return alt.Axis(orient=orient, values=values, title=None, labels=True, ticks=False,
                    domain=False, labelFontSize=13, labelFont=FONT, labelColor="black",
                    labelPadding=pad, labelFlush=False, format="d", grid=False)


def text_layer(rows, italic=False, angle=0):
    df = pd.DataFrame(rows, columns=["px", "py", "t", "fs"])
    df["x"] = df["px"].apply(px2x)
    df["y"] = df["py"].apply(py2y)
    kw = dict(align="left", baseline="alphabetic", font=FONT, color="black")
    if italic:
        kw["fontStyle"] = "italic"
    if angle:
        kw["angle"] = angle
    return alt.Chart(df).mark_text(**kw).encode(
        x=qx("x"), y=qy("y"), text="t:N",
        size=alt.Size("fs:Q", scale=None, legend=None))


def make_panel(i):
    row, col = divmod(i, 5)
    has_right = col < 4 and i + 1 < NPANEL
    has_below = i + 5 < NPANEL
    show_y = col == 0
    show_x = not has_below
    color = COLORS[i]
    layers = []

    # frame: inward ticks on outer edges, outward (= neighbour's inward) on shared edges
    ax_top = tick_axis("bottom", XT, -H) if row == 0 else tick_axis("top", XT, 0)
    ax_bot = tick_axis("top", XT, -H) if not has_below else tick_axis("bottom", XT, 0)
    ax_left = tick_axis("right", YT, -W) if col == 0 else tick_axis("left", YT, 0)
    ax_right = tick_axis("left", YT, -W) if not has_right else tick_axis("right", YT, 0)

    # bands (grey = B, cyan = A); they also carry the frame axes
    layers.append(alt.Chart(band_df(LINE_B[i], BAND_B[i])).mark_area(
        color="#bdbdbd", opacity=0.6, clip=True).encode(
        x=qx("x", ax_top), y=qy("lo", ax_right), y2=alt.Y2("hi")))
    layers.append(alt.Chart(band_df(LINE_A[i], BAND_A[i])).mark_area(
        color="#00dede", opacity=0.35, clip=True).encode(
        x=qx("x", ax_bot), y=qy("lo", ax_left), y2=alt.Y2("hi")))

    # grey sample (its error-bar layer carries the tick labels)
    dB = pts_df(PTS_B[i])
    layers.append(alt.Chart(dB).mark_rule(color=GREY_EB, strokeWidth=1, clip=True).encode(
        x=qx("x", label_axis("bottom", XT, 9) if show_x else None),
        y=qy("lo", label_axis("left", YT, 6) if show_y else None), y2=alt.Y2("hi")))
    if XERR_B[i]:
        layers.append(alt.Chart(xerr_df(XERR_B[i])).mark_rule(
            color=GREY_EB, strokeWidth=1.2, clip=True).encode(
            x=qx("x1"), x2=alt.X2("x2"), y=qy("y")))
    if LIMS[i]:
        dl = pd.DataFrame(LIMS[i], columns=["x", "y", "ye"])
        layers.append(alt.Chart(dl).mark_rule(color=GREY_EB, strokeWidth=1.2, clip=True).encode(
            x=qx("x"), y=qy("y"), y2=alt.Y2("ye")))
        layers.append(alt.Chart(dl).mark_point(
            shape="M-1,-1L0,0L1,-1", filled=False, size=45, strokeWidth=1.2,
            color=GREY, opacity=1, clip=True).encode(x=qx("x"), y=qy("ye")))
    layers.append(alt.Chart(dB).mark_circle(size=36, color=GREY, opacity=0.95, clip=True).encode(
        x=qx("x"), y=qy("y")))

    # fit lines
    la = pd.DataFrame({"x": [LINE_A[i][0], LINE_A[i][2]], "y": [LINE_A[i][1], LINE_A[i][3]]})
    lb = pd.DataFrame({"x": [LINE_B[i][0], LINE_B[i][2]], "y": [LINE_B[i][1], LINE_B[i][3]]})
    layers.append(alt.Chart(lb).mark_line(color="black", strokeWidth=1.3,
                                          strokeDash=[5, 3], clip=True).encode(
        x=qx("x"), y=qy("y")))
    layers.append(alt.Chart(la).mark_line(color="black", strokeWidth=1.3, clip=True).encode(
        x=qx("x"), y=qy("y")))

    # coloured sample
    dA = pts_df(PTS_A[i])
    layers.append(alt.Chart(dA).mark_rule(color=color, strokeWidth=1, clip=True).encode(
        x=qx("x"), y=qy("lo"), y2=alt.Y2("hi")))
    if XERR_A[i]:
        layers.append(alt.Chart(xerr_df(XERR_A[i])).mark_rule(
            color=color, strokeWidth=1.4, clip=True).encode(
            x=qx("x1"), x2=alt.X2("x2"), y=qy("y")))
    layers.append(alt.Chart(dA).mark_circle(size=42, color=color, opacity=1, clip=True).encode(
        x=qx("x"), y=qy("y")))

    # annotations
    na, da, nb, db, pa, ka, pb, kb = STATS[i]
    normal = [(10, 17, NAMES[i], 11.5)]
    italic = []
    for letter, sub, rest, by, sx, rx in [("N", "A", "= " + na, 33, 10.0, 16.5),
                                          ("δ", "A", "= " + da, 46, 7.5, 14.5),
                                          ("N", "B", "= " + nb, 59, 10.0, 16.5),
                                          ("δ", "B", "= " + db, 72, 7.5, 14.5)]:
        italic.append((10, by, letter, 11.5))
        italic.append((10 + sx, by + 3, sub, 8.5))
        normal.append((10 + rx, by, rest, 11.5))
    lx = W - 55
    for letter, sub, val, by in [("P", "A", pa, H - 53), ("K", "A", ka, H - 41),
                                 ("P", "B", pb, H - 24), ("K", "B", kb, H - 12)]:
        sx, rx = (7.6, 13.4) if letter == "P" else (8.4, 14.2)
        italic.append((lx, by, letter, 11.5))
        italic.append((lx + sx, by + 3, sub, 8.5))
        normal.append((lx + rx, by, ": " + val, 11.5))

    if show_x:
        fm, fsub = 15.5, 11.0
        pieces = [("log(", False, 1.915, False), ("νL", True, 1.149, False),
                  ("ν", True, 0.592, True), ("/", False, 0.337, False),
                  ("L", True, 0.557, False), ("⊙", False, 0.838, True),
                  (")", False, 0.390, False)]
        total = sum(w * (fsub if s else fm) + 1.0 for _, _, w, s in pieces)
        cx = 0.51 * W - total / 2
        for t, it, w, s in pieces:
            fs = fsub if s else fm
            item = (cx, H + 34 + (3.5 if s else 0), t, fs)
            (italic if it else normal).append(item)
            cx += w * fs + 1.0

    layers.append(text_layer(normal))
    layers.append(text_layer(italic, italic=True))

    if show_y:
        fm, fsub = 19.5, 13.5
        pieces = [("log(", False, 1.915, False), ("M", True, 0.863, False),
                  ("dust", True, 2.182, True), ("/", False, 0.337, False),
                  ("M", True, 0.863, False), ("⊙", False, 0.838, True),
                  (")", False, 0.390, False)]
        total = sum(w * (fsub if s else fm) + 1.0 for _, _, w, s in pieces)
        cy = 0.55 * H + total / 2
        rn, ri = [], []
        for t, it, w, s in pieces:
            fs = fsub if s else fm
            item = (-15 + (4.5 if s else 0), cy, t, fs)
            (ri if it else rn).append(item)
            cy -= w * fs + 1.0
        layers.append(text_layer(rn, angle=270))
        layers.append(text_layer(ri, italic=True, angle=270))

    return alt.layer(*layers).properties(width=W, height=H)


charts = [make_panel(i) for i in range(NPANEL)]

chart = (alt.concat(*charts, columns=5, spacing=0, bounds="flush")
         .properties(padding=0)
         .configure(font=FONT)
         .configure_view(strokeWidth=0))

chart.save("out.html", embed_options={"renderer": "svg", "actions": False})
